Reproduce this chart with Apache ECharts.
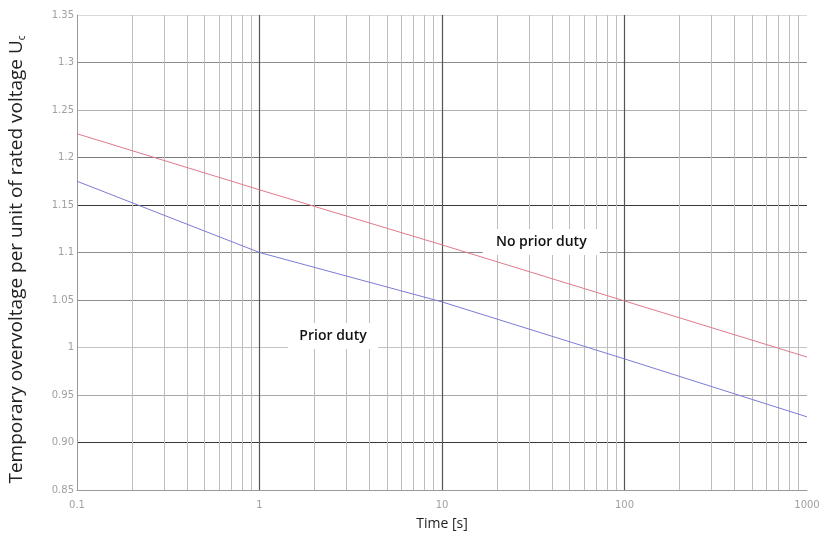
<!DOCTYPE html>
<html>
<head>
<meta charset="utf-8">
<script src="https://cdn.jsdelivr.net/npm/echarts@6/dist/echarts.min.js"></script>
<style>
  html, body { margin: 0; padding: 0; background: #fff; }
  #chart { width: 822px; height: 533px; }
</style>
</head>
<body>
<div id="chart"></div>
<script>
// data
var times = [0.1, 1, 10, 100, 1000];
var noPriorDuty = [1.225, 1.166, 1.108, 1.049, 0.99];
var priorDuty = [1.175, 1.10, 1.048, 0.988, 0.927];
var yTicks = [0.85, 0.90, 0.95, 1.0, 1.05, 1.1, 1.15, 1.2, 1.25, 1.3, 1.35];
var yTickText = ['0.85', '0.90', '0.95', '1', '1.05', '1.1', '1.15', '1.2', '1.25', '1.3', '1.35'];
var xTickText = { 0.1: '0.1', 1: '1', 10: '10', 100: '100', 1000: '1000' };
// gridline colours per y tick (scanned chart has uneven greys)
var yLineColors = ['#cfcfcf', '#3a3a3a', '#a8a8a8', '#c4c4c4', '#8c8c8c', '#8c8c8c', '#3a3a3a', '#7a7a7a', '#b0b0b0', '#8c8c8c', '#d8d8d8'];

var chart = echarts.init(document.getElementById('chart'));

function pairs(xs, ys) {
  var out = [];
  for (var i = 0; i < xs.length; i++) out.push([xs[i], ys[i]]);
  return out;
}

// vertical minor grid lines at 2..9 of each decade
var minorLines = [];
for (var d = 0.1; d < 1000; d *= 10) {
  for (var k = 2; k <= 9; k++) {
    minorLines.push({ xAxis: +(k * d).toPrecision(3), lineStyle: { color: '#bdbdbd', width: 1, type: 'solid' } });
  }
}
var majorLines = [1, 10, 100].map(function (v) {
  return { xAxis: v, lineStyle: { color: '#555', width: 1.2, type: 'solid' } };
});

var option = {
  backgroundColor: '#fff',
  animation: false,
  textStyle: { fontFamily: 'Open Sans' },
  grid: { left: 77, right: 15, top: 15, bottom: 43, outerBoundsMode: 'none', containLabel: false },
  xAxis: {
    type: 'log',
    logBase: 10,
    min: 0.1,
    max: 1000,
    name: 'Time [s]',
    nameLocation: 'middle',
    nameGap: 27,
    nameTextStyle: { color: '#222', fontSize: 14, fontFamily: 'Open Sans' },
    axisLine: { show: true, lineStyle: { color: '#999' } },
    axisTick: { show: false },
    axisLabel: {
      color: '#a0a0a0',
      fontSize: 10,
      fontFamily: 'DejaVu Sans',
      margin: 10,
      formatter: function (v) { return xTickText[v] || ''; }
    },
    splitLine: { show: false }
  },
  yAxis: {
    type: 'value',
    min: 0.85,
    max: 1.35,
    interval: 0.05,
    name: '{n|Temporary overvoltage per unit of rated voltage U}{s|c}',
    nameLocation: 'middle',
    nameGap: 50,
    nameTextStyle: {
      padding: [0, 14, 0, 0],
      rich: {
        n: { color: '#222', fontSize: 19, fontFamily: 'Open Sans' },
        s: { color: '#222', fontSize: 10, fontFamily: 'Open Sans', verticalAlign: 'bottom', padding: [10, 0, 0, 0] }
      }
    },
    axisLine: { show: true, lineStyle: { color: '#999' } },
    axisTick: { show: false },
    axisLabel: {
      color: '#a0a0a0',
      fontSize: 10,
      fontFamily: 'DejaVu Sans',
      margin: 3,
      formatter: function (v) {
        for (var i = 0; i < yTicks.length; i++) {
          if (Math.abs(yTicks[i] - v) < 1e-6) return yTickText[i];
        }
        return '';
      }
    },
    splitLine: { show: true, lineStyle: { color: yLineColors, width: 1 } }
  },
  series: [
    {
      name: 'No prior duty',
      type: 'line',
      data: pairs(times, noPriorDuty),
      symbol: 'none',
      z: 5,
      lineStyle: { color: '#e07a8c', width: 1 },
      markLine: {
        silent: true,
        symbol: 'none',
        label: { show: false },
        data: minorLines.concat(majorLines)
      },
      markPoint: {
        silent: true,
        symbol: 'rect',
        symbolSize: [117, 26],
        itemStyle: { color: '#fff' },
        label: {
          show: true,
          position: 'inside',
          color: '#111',
          fontSize: 14,
          fontWeight: 600,
          fontFamily: 'Open Sans',
          formatter: 'No prior duty'
        },
        data: [{ coord: [35, 1.111] }]
      }
    },
    {
      name: 'Prior duty',
      type: 'line',
      data: pairs(times, priorDuty),
      symbol: 'none',
      z: 5,
      lineStyle: { color: '#7b7bd6', width: 1 },
      markPoint: {
        silent: true,
        symbol: 'rect',
        symbolSize: [90, 26],
        itemStyle: { color: '#fff' },
        label: {
          show: true,
          position: 'inside',
          color: '#111',
          fontSize: 14,
          fontWeight: 600,
          fontFamily: 'Open Sans',
          formatter: 'Prior duty'
        },
        data: [{ coord: [2.53, 1.012] }]
      }
    }
  ]
};

chart.setOption(option);
</script>
</body>
</html>
